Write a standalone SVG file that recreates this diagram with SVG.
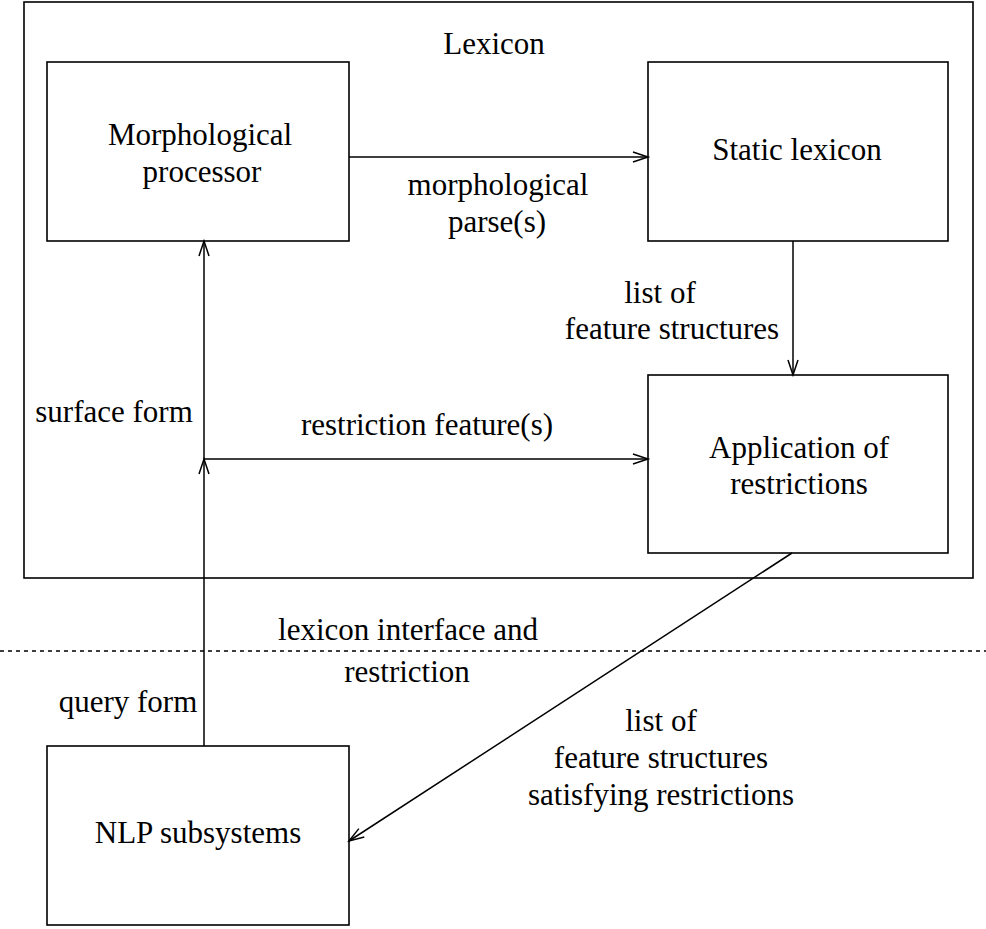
<svg xmlns="http://www.w3.org/2000/svg" width="986" height="929" viewBox="0 0 986 929">
<style>
.box{fill:none;stroke:#000;stroke-width:1.6}
.ln{fill:none;stroke:#000;stroke-width:1.5}
text{font-family:"Liberation Serif","Times New Roman",serif;font-size:31px;fill:#000;text-anchor:middle}
</style>
<defs>
<marker id="ah" markerUnits="userSpaceOnUse" markerWidth="20" markerHeight="14" viewBox="-17 -7 20 14" refX="0" refY="0" orient="auto">
<path d="M-15,-5 L0,0 L-15,5" fill="none" stroke="#000" stroke-width="1.5"/>
</marker>
</defs>
<rect width="986" height="929" fill="#fff"/>
<g id="lexicon">
<rect class="box" x="24" y="2" width="949" height="576"/>
<text x="494" y="54">Lexicon</text>
</g>
<g id="morph">
<rect class="box" x="47" y="62" width="302" height="179"/>
<text x="200" y="145">Morphological</text>
<text x="202" y="182">processor</text>
</g>
<g id="static">
<rect class="box" x="648" y="62" width="300" height="179"/>
<text x="797" y="160">Static lexicon</text>
</g>
<g id="apply">
<rect class="box" x="648" y="375" width="300" height="178"/>
<text x="799" y="458">Application of</text>
<text x="799" y="494">restrictions</text>
</g>
<g id="nlp">
<rect class="box" x="47" y="746" width="302" height="179"/>
<text x="198" y="843">NLP subsystems</text>
</g>
<g id="connectors">
<line class="ln" x1="0" y1="651" x2="986" y2="651" stroke-dasharray="4 4"/>
<line class="ln" x1="204" y1="746" x2="204" y2="459" marker-end="url(#ah)"/>
<line class="ln" x1="204" y1="459" x2="204" y2="241" marker-end="url(#ah)"/>
<line class="ln" x1="204" y1="459" x2="648" y2="459" marker-end="url(#ah)"/>
<line class="ln" x1="349" y1="157" x2="648" y2="157" marker-end="url(#ah)"/>
<line class="ln" x1="793" y1="241" x2="793" y2="375" marker-end="url(#ah)"/>
<line class="ln" x1="792" y1="553" x2="349" y2="841" marker-end="url(#ah)"/>
</g>
<g id="labels">
<text x="498" y="195">morphological</text>
<text x="497" y="232">parse(s)</text>
<text x="660" y="303">list of</text>
<text x="672" y="339">feature structures</text>
<text x="114" y="422">surface form</text>
<text x="427" y="435">restriction feature(s)</text>
<text x="408" y="640">lexicon interface and</text>
<text x="407" y="682">restriction</text>
<text x="128" y="712">query form</text>
<text x="661" y="731">list of</text>
<text x="661" y="768">feature structures</text>
<text x="661" y="805">satisfying restrictions</text>
</g>
</svg>
